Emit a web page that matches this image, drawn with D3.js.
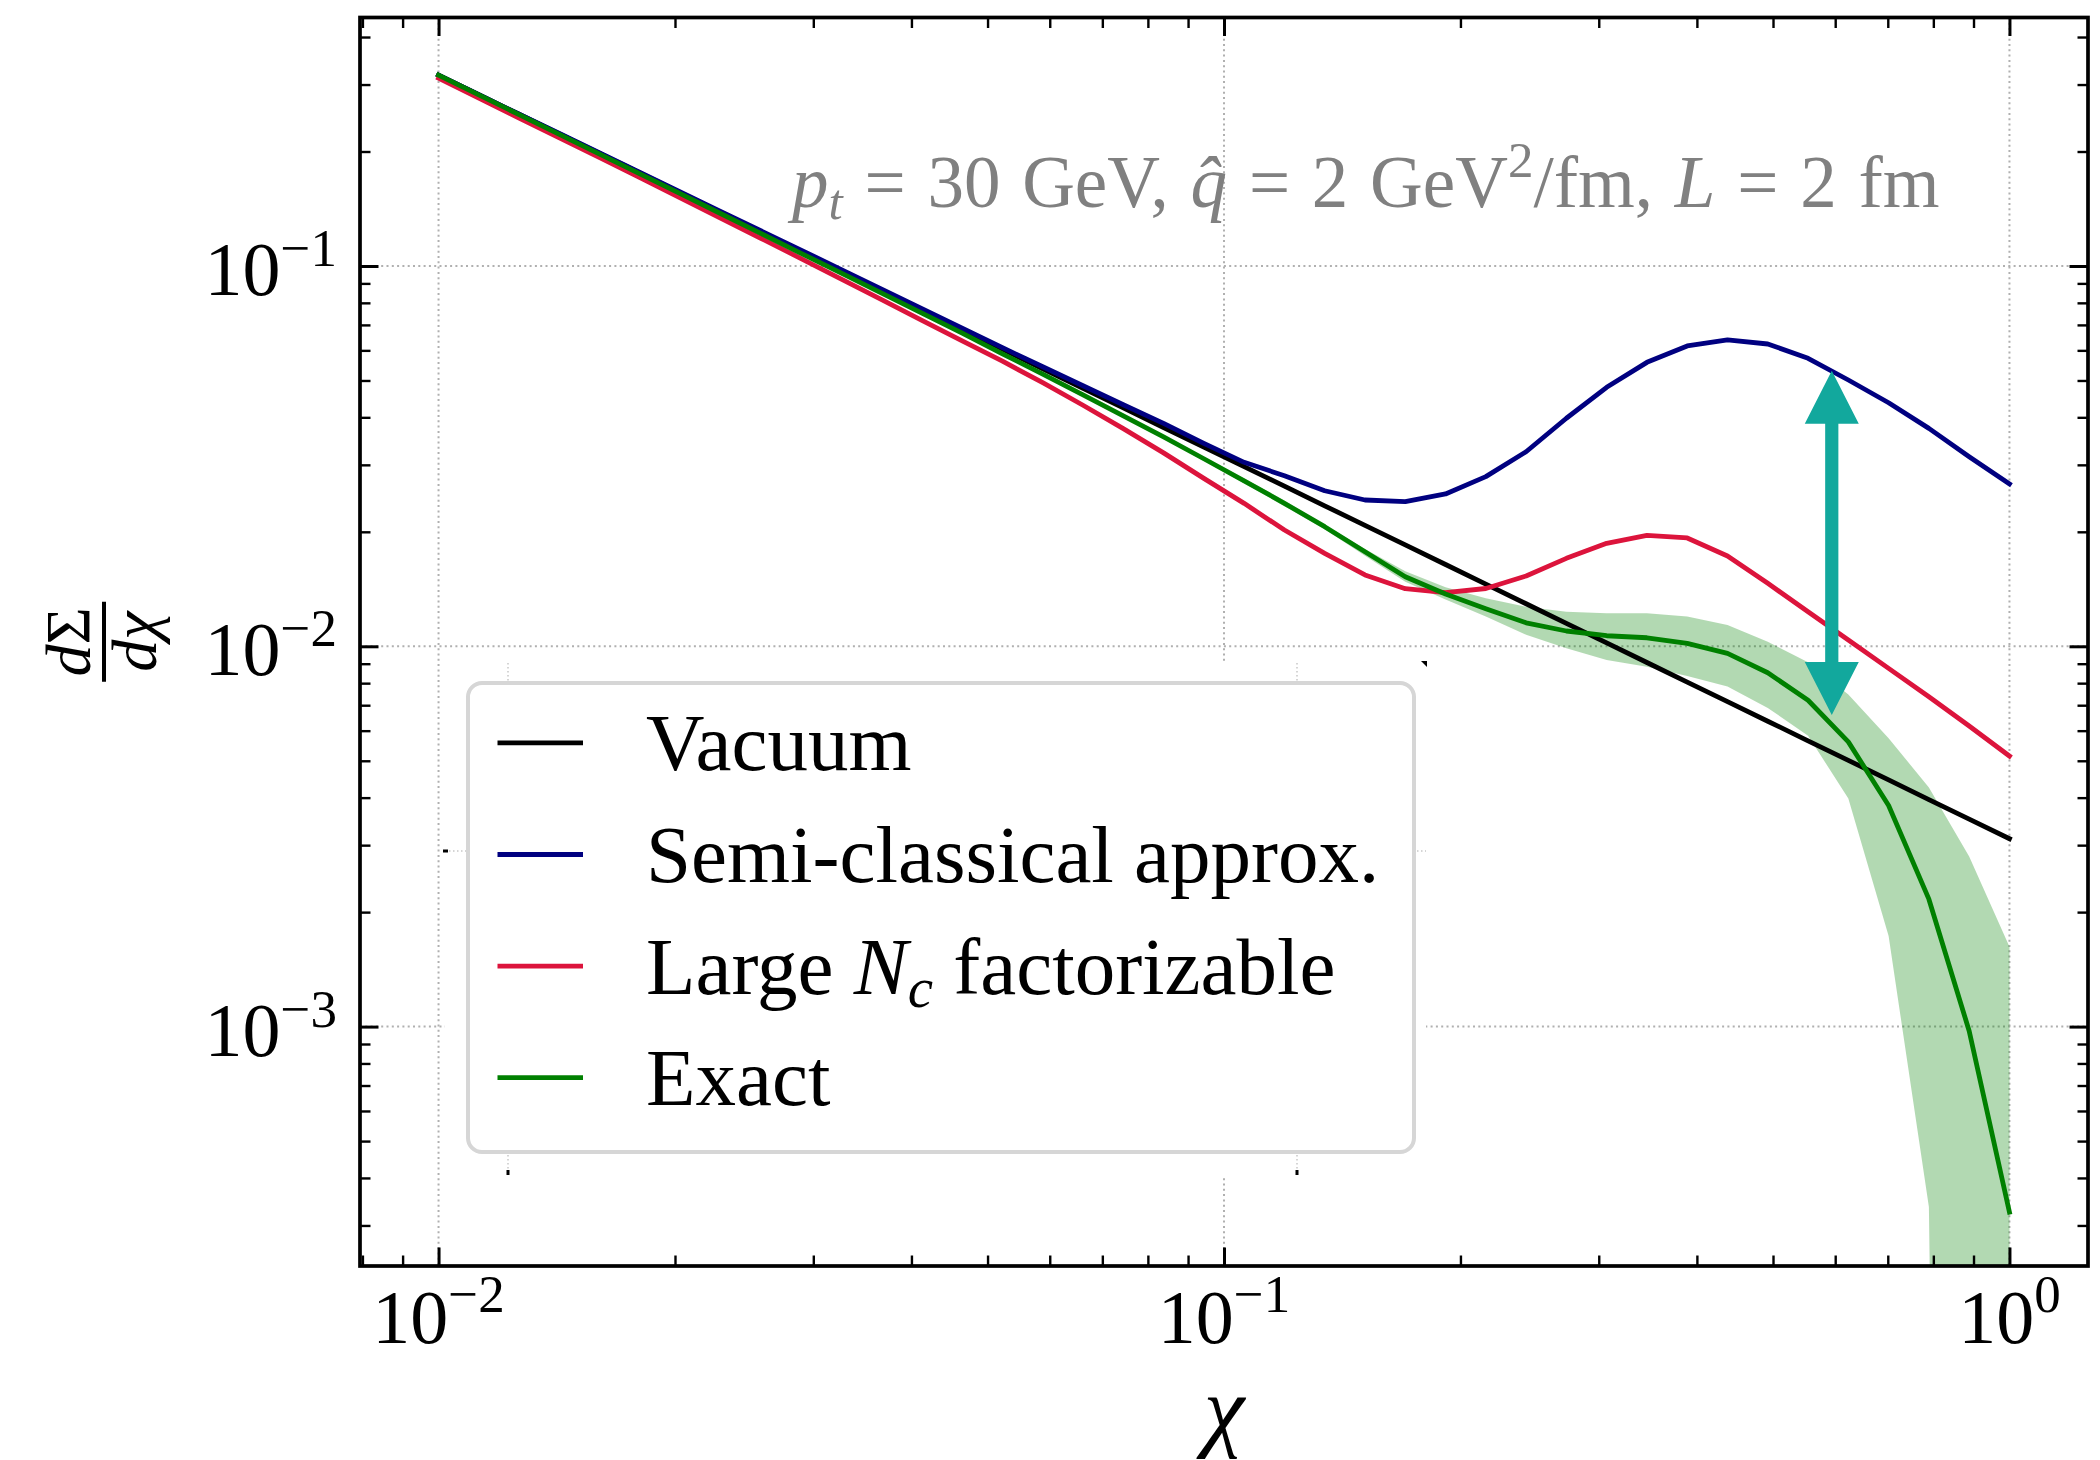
<!DOCTYPE html>
<html><head><meta charset="utf-8">
<script src="https://cdn.jsdelivr.net/npm/d3@7"></script>
<style>
html,body{margin:0;padding:0;background:#fff;}
svg{display:block;}
text{font-family:"Liberation Serif","Times New Roman",serif;}
</style></head><body>
<svg id="chart" width="2100" height="1460"></svg>
<script>
// ---------------- data ----------------
const chi = [0.01, 0.011253, 0.012663, 0.014251, 0.016037, 0.018047, 0.020309, 0.022854, 0.025719, 0.028943,
  0.03257, 0.036652, 0.041246, 0.046416, 0.052233, 0.05878, 0.066147, 0.074438, 0.083768, 0.094267,
  0.10608, 0.11938, 0.13434, 0.15118, 0.17013, 0.19145, 0.21544, 0.24245, 0.27283, 0.30703,
  0.34551, 0.38882, 0.43755, 0.49239, 0.5541, 0.62355, 0.7017, 0.78965, 0.88862, 1.0];

const vacuum = [0.3177, 0.2821, 0.2506, 0.2226, 0.1977, 0.1756, 0.1560, 0.1386, 0.1231, 0.1093,
  0.09707, 0.08622, 0.07659, 0.06803, 0.06043, 0.05367, 0.04768, 0.04235, 0.03761, 0.03341,
  0.02968, 0.02636, 0.02341, 0.02080, 0.01847, 0.01641, 0.01457, 0.01294, 0.01149, 0.01021,
  0.009066, 0.008053, 0.007153, 0.006353, 0.005643, 0.005012, 0.004452, 0.003954, 0.003512, 0.003119];

const semiClassical = [0.3177, 0.2821, 0.2506, 0.2230, 0.1983, 0.1762, 0.1566, 0.1392, 0.1238, 0.1101,
  0.09784, 0.08696, 0.07727, 0.06862, 0.06098, 0.05434, 0.04844, 0.04317, 0.03857, 0.03417,
  0.03046, 0.02809, 0.02565, 0.02425, 0.02400, 0.02515, 0.02793, 0.03248, 0.03978, 0.04797,
  0.05580, 0.06161, 0.06389, 0.06236, 0.05719, 0.05014, 0.04369, 0.03741, 0.03152, 0.02672];

const largeNc = [0.3119, 0.2763, 0.2450, 0.2173, 0.1927, 0.1707, 0.1511, 0.1337, 0.1183, 0.1046,
  0.09237, 0.08155, 0.07197, 0.06353, 0.05620, 0.04932, 0.04304, 0.03734, 0.03225, 0.02764,
  0.02376, 0.02022, 0.01756, 0.01540, 0.01417, 0.01384, 0.01419, 0.01531, 0.01703, 0.01865,
  0.01958, 0.01927, 0.01728, 0.01464, 0.01233, 0.01039, 0.008750, 0.007370, 0.006174, 0.005145];

const exact = [0.3177, 0.2818, 0.2500, 0.2218, 0.1968, 0.1746, 0.1549, 0.1374, 0.1218, 0.1080,
  0.09574, 0.08482, 0.07516, 0.06660, 0.05876, 0.05195, 0.04585, 0.04036, 0.03552, 0.03113,
  0.02724, 0.02377, 0.02063, 0.01773, 0.01524, 0.01372, 0.01256, 0.01153, 0.01097, 0.01066,
  0.01053, 0.01018, 0.009585, 0.008521, 0.007212, 0.005607, 0.003815, 0.002163, 0.000974, 0.000325];

const exactUpper = [0.3195, 0.2834, 0.2514, 0.2231, 0.1979, 0.1756, 0.1558, 0.1382, 0.1225, 0.1087,
  0.09635, 0.08537, 0.07566, 0.06706, 0.05917, 0.05235, 0.04624, 0.04075, 0.03591, 0.03153,
  0.02764, 0.02418, 0.02084, 0.01803, 0.01574, 0.01429, 0.01337, 0.01271, 0.01233, 0.01222,
  0.01222, 0.01197, 0.01138, 0.01028, 0.009078, 0.007464, 0.005728, 0.004256, 0.002799, 0.001622];

// 0 = band reaches zero (below the visible log range)
const exactLower = [0.3159, 0.2802, 0.2486, 0.2205, 0.1957, 0.1736, 0.1540, 0.1366, 0.1211, 0.1073,
  0.09513, 0.08427, 0.07466, 0.06614, 0.05835, 0.05155, 0.04546, 0.03997, 0.03513, 0.03073,
  0.02684, 0.02336, 0.02032, 0.01730, 0.01479, 0.01327, 0.01197, 0.01072, 0.009886, 0.009204,
  0.008831, 0.008356, 0.007834, 0.006887, 0.005821, 0.003981, 0.001730, 0.0003357, 0, 0];

const seriesNames = ["Vacuum", "Semi-classical approx.", "Large N_c factorizable", "Exact"];
const arrowChi = [0.594];
const arrowValues = [0.0530, 0.00660];

const xTicks = [0.01, 0.1, 1];
const xTickExp = ["\u22122", "\u22121", "0"];
const yTicks = [0.1, 0.01, 0.001];
const yTickExp = ["\u22121", "\u22122", "\u22123"];

// ---------------- styles ----------------
const seriesColors = ["#000000", "#000080", "#dc143c", "#008000"];
const lineW = 4.8;
const arrowColor = "#12a89d";

const W = 2100, H = 1460;
const plot = {left: 360, right: 2088, top: 17.5, bottom: 1266};

const x = d3.scaleLog().domain([Math.pow(10, -2.1), Math.pow(10, 0.1)]).range([plot.left, plot.right]);
const y = d3.scaleLog().domain([Math.pow(10, -3.6295), Math.pow(10, -0.3466)]).range([plot.bottom, plot.top]);

const svg = d3.select("#chart");
svg.append("rect").attr("width", W).attr("height", H).attr("fill", "#fff");
svg.append("defs").append("clipPath").attr("id", "clip").append("rect")
  .attr("x", plot.left).attr("y", plot.top)
  .attr("width", plot.right - plot.left).attr("height", plot.bottom - plot.top);

// ---------------- grid ----------------
const grid = svg.append("g").attr("stroke", "#b0b0b0").attr("stroke-width", 2).attr("stroke-dasharray", "2,3.3");
xTicks.forEach(v => grid.append("line").attr("x1", x(v)).attr("x2", x(v)).attr("y1", plot.top).attr("y2", plot.bottom));
yTicks.forEach(v => grid.append("line").attr("y1", y(v)).attr("y2", y(v)).attr("x1", plot.left).attr("x2", plot.right));

// hidden inset-axes patch behind the legend (white background, faint grid, stray ticks)
const inset = svg.append("g");
inset.append("rect").attr("x", 445).attr("y", 663).attr("width", 981).attr("height", 512).attr("fill", "#fff");
const ig = inset.append("g").attr("stroke", "#c8c8c8").attr("stroke-width", 1.5).attr("stroke-dasharray", "1.5,2.5");
ig.append("line").attr("x1", 508).attr("x2", 508).attr("y1", 663).attr("y2", 1175);
ig.append("line").attr("x1", 1297).attr("x2", 1297).attr("y1", 663).attr("y2", 1175);
ig.append("line").attr("x1", 445).attr("x2", 1426).attr("y1", 851).attr("y2", 851);
inset.append("rect").attr("x", 506.5).attr("y", 1170).attr("width", 3).attr("height", 5).attr("fill", "#000");
inset.append("rect").attr("x", 1295.5).attr("y", 1170).attr("width", 3).attr("height", 5).attr("fill", "#000");
inset.append("rect").attr("x", 443).attr("y", 849.5).attr("width", 5).attr("height", 3).attr("fill", "#000");
inset.append("path").attr("d", "M1421,661 L1427,661 L1427,667 Z").attr("fill", "#000");

// ---------------- data layer ----------------
const data = svg.append("g").attr("clip-path", "url(#clip)");
const band = d3.area()
  .x((d, i) => x(chi[i]))
  .y0((d, i) => exactLower[i] > 0 ? y(exactLower[i]) : plot.bottom + 3000)
  .y1((d, i) => y(exactUpper[i]));
data.append("path").attr("d", band(chi)).attr("fill", "#008000").attr("fill-opacity", 0.3);

const line = d3.line().x((d, i) => x(chi[i])).y(d => y(d));
[vacuum, semiClassical, largeNc, exact].forEach((s, k) => {
  data.append("path").attr("d", line(s)).attr("fill", "none")
    .attr("stroke", seriesColors[k]).attr("stroke-width", lineW)
    .attr("stroke-linejoin", "round").attr("stroke-linecap", "square");
});

// double-headed arrow
(function () {
  const ax = x(arrowChi[0]), yt = y(arrowValues[0]), yb = y(arrowValues[1]);
  const hl = 53, hw = 27, sw = 6.6;
  const p = d3.path();
  p.moveTo(ax, yt); p.lineTo(ax + hw, yt + hl); p.lineTo(ax + sw, yt + hl);
  p.lineTo(ax + sw, yb - hl); p.lineTo(ax + hw, yb - hl); p.lineTo(ax, yb);
  p.lineTo(ax - hw, yb - hl); p.lineTo(ax - sw, yb - hl); p.lineTo(ax - sw, yt + hl);
  p.lineTo(ax - hw, yt + hl); p.closePath();
  data.append("path").attr("d", p.toString()).attr("fill", arrowColor);
})();

// ---------------- annotation ----------------
const ann = svg.append("text").attr("x", 792).attr("y", 207).attr("fill", "#808080").attr("font-size", 73);
ann.append("tspan").attr("font-style", "italic").text("p");
ann.append("tspan").attr("font-style", "italic").attr("font-size", 51).attr("dy", 12).text("t");
ann.append("tspan").attr("dy", -12).text(" = 30 GeV, ");
ann.append("tspan").attr("font-style", "italic").text("q\u0302");
ann.append("tspan").text(" = 2 GeV");
ann.append("tspan").attr("font-size", 51).attr("dy", -30).text("2");
ann.append("tspan").attr("dy", 30).text("/fm, ");
ann.append("tspan").attr("font-style", "italic").text("L");
ann.append("tspan").text(" = 2 fm");
(function () {
  const target = 1144;
  const w = ann.node().getComputedTextLength();
  const nSpaces = 10;
  ann.attr("word-spacing", Math.max(0, (target - w) / nSpaces));
})();

// ---------------- axes (ticks inward on all sides) ----------------
const xMinor = [], yMinor = [];
[0.001, 0.01, 0.1].forEach(d => { for (let m = 2; m <= 9; m++) xMinor.push(m * d); });
[0.0001, 0.001, 0.01, 0.1].forEach(d => { for (let m = 2; m <= 9; m++) yMinor.push(m * d); });
const xMin = xMinor.filter(v => v > x.domain()[0] && v < x.domain()[1]);
const yMin = yMinor.filter(v => v > y.domain()[0] && v < y.domain()[1]);

function styleAxis(g, w) {
  g.select(".domain").remove();
  g.selectAll(".tick line").attr("stroke", "#000").attr("stroke-width", w);
}
const axes = svg.append("g");
axes.append("g").attr("transform", `translate(0,${plot.bottom})`).call(d3.axisBottom(x).tickValues(xTicks).tickSize(-18.5).tickFormat("")).call(g => styleAxis(g, 3));
axes.append("g").attr("transform", `translate(0,${plot.bottom})`).call(d3.axisBottom(x).tickValues(xMin).tickSize(-10.5).tickFormat("")).call(g => styleAxis(g, 2.4));
axes.append("g").attr("transform", `translate(0,${plot.top})`).call(d3.axisTop(x).tickValues(xTicks).tickSize(-18.5).tickFormat("")).call(g => styleAxis(g, 3));
axes.append("g").attr("transform", `translate(0,${plot.top})`).call(d3.axisTop(x).tickValues(xMin).tickSize(-10.5).tickFormat("")).call(g => styleAxis(g, 2.4));
axes.append("g").attr("transform", `translate(${plot.left},0)`).call(d3.axisLeft(y).tickValues(yTicks).tickSize(-18.5).tickFormat("")).call(g => styleAxis(g, 3));
axes.append("g").attr("transform", `translate(${plot.left},0)`).call(d3.axisLeft(y).tickValues(yMin).tickSize(-10.5).tickFormat("")).call(g => styleAxis(g, 2.4));
axes.append("g").attr("transform", `translate(${plot.right},0)`).call(d3.axisRight(y).tickValues(yTicks).tickSize(-18.5).tickFormat("")).call(g => styleAxis(g, 3));
axes.append("g").attr("transform", `translate(${plot.right},0)`).call(d3.axisRight(y).tickValues(yMin).tickSize(-10.5).tickFormat("")).call(g => styleAxis(g, 2.4));

axes.append("rect").attr("x", plot.left).attr("y", plot.top)
  .attr("width", plot.right - plot.left).attr("height", plot.bottom - plot.top)
  .attr("fill", "none").attr("stroke", "#000").attr("stroke-width", 3.7);

// tick labels
xTicks.forEach((v, i) => {
  const t = axes.append("text").attr("x", x(v)).attr("y", 1343).attr("text-anchor", "middle").attr("font-size", 76).attr("fill", "#000");
  t.append("tspan").text("10");
  t.append("tspan").attr("font-size", 53).attr("dy", -31).text(xTickExp[i]);
});
yTicks.forEach((v, i) => {
  const t = axes.append("text").attr("x", 337).attr("y", y(v) + 29).attr("text-anchor", "end").attr("font-size", 76).attr("fill", "#000");
  t.append("tspan").text("10");
  t.append("tspan").attr("font-size", 53).attr("dy", -29).text(yTickExp[i]);
});

// axis labels
axes.append("text").attr("x", (plot.left + plot.right) / 2).attr("y", 1440).attr("text-anchor", "middle")
  .attr("font-size", 92).attr("font-style", "italic").text("\u03C7");

const yl = axes.append("g").attr("transform", `translate(104,${(plot.top + plot.bottom) / 2}) rotate(-90)`);
const num = yl.append("text").attr("x", 0).attr("y", -14).attr("text-anchor", "middle").attr("font-size", 64);
num.append("tspan").attr("font-style", "italic").text("d");
num.append("tspan").text("\u03A3");
const den = yl.append("text").attr("x", 0).attr("y", 52).attr("text-anchor", "middle").attr("font-size", 64);
den.append("tspan").attr("font-style", "italic").text("d\u03C7");
yl.append("rect").attr("x", -40).attr("y", -2).attr("width", 80).attr("height", 4).attr("fill", "#000");

// ---------------- legend ----------------
const leg = svg.append("g");
leg.append("rect").attr("x", 468).attr("y", 683).attr("width", 946).attr("height", 469)
  .attr("rx", 14).attr("ry", 14).attr("fill", "#fff").attr("stroke", "#d6d6d6").attr("stroke-width", 4);
seriesNames.forEach((name, k) => {
  const base = 770.4 + k * 111.6;
  leg.append("line").attr("x1", 497.5).attr("x2", 583).attr("y1", base - 27.5).attr("y2", base - 27.5)
    .attr("stroke", seriesColors[k]).attr("stroke-width", lineW);
  const t = leg.append("text").attr("x", 646).attr("y", base).attr("font-size", 81).attr("fill", "#000");
  if (name.includes("N_c")) {
    const parts = name.split("N_c");
    t.append("tspan").text(parts[0]);
    t.append("tspan").attr("font-style", "italic").text("N");
    t.append("tspan").attr("font-style", "italic").attr("font-size", 57).attr("dy", 13).text("c");
    t.append("tspan").attr("dy", -13).text(parts[1]);
  } else {
    t.text(name);
  }
});
</script>
</body></html>
